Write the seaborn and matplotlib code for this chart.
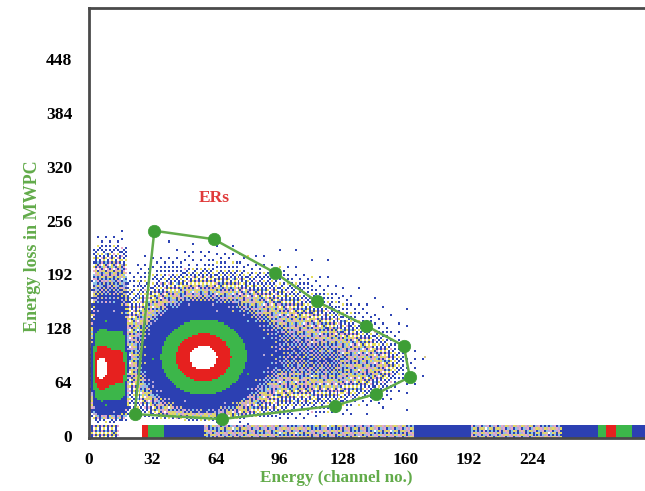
import numpy as np
import matplotlib

matplotlib.use("Agg")
import matplotlib.pyplot as plt
from matplotlib.colors import ListedColormap
import seaborn as sns

# gate drawn around the ER events (channel units)
gate_x = [33, 63, 94, 115, 140, 159, 162, 145, 124, 67, 23]
gate_y = [244, 234, 194, 160, 131, 107, 70, 50, 36, 20, 26]

# event clusters: centre, widths and mean counts per cell
blob_xc = [57.5, 62, 95, 124, 145, 10.5, 5.8, 10.5]
blob_yc = [92.5, 128, 100, 88, 85, 80, 79, 172]
blob_sx = [13, 22, 18, 13, 6, 7.6, 3.0, 7.6]
blob_sy_lo = [27, 30, 30, 20, 12, 26, 18, 22]
blob_sy_hi = [27, 30, 29, 20, 12, 32, 18, 22]
blob_peak = [125, 5.5, 6, 5, 2, 95, 35, 5.5]
blob_xpow = [2, 2, 2, 2, 2, 10, 2, 10]

# ΔE = 0 strip along the bottom: channel ranges and mean counts per cell
band_start = [1, 27, 30, 38, 57.6, 163.6, 193, 239.4, 257, 260.6, 265.7, 273.7]
band_end = [15, 30, 38, 57.6, 163.6, 193, 239.4, 257, 260.6, 265.7, 273.7, 288]
band_count = [1.5, 90, 50, 20, 4.5, 20, 4.5, 20, 50, 90, 50, 20]

# single stray event outside the gate
stray_x = [170]
stray_y = [94]
stray_count = [5]

# colour classes by counts per cell
count_edges = [1, 2, 3, 4, 5, 6, 7, 35, 75, 112]
class_colors = ["#2f45b5", "#e4dc5e", "#e8a9c8", "#8cc3e6", "#d6c68a",
                "#b9a8d8", "#2c40b2", "#3cb64a", "#e6211f", "#ffffff"]

x_edges = np.arange(0, 289, 1.0)
y_edges = np.arange(-2.5, 511, 2.5)
xc = (x_edges[:-1] + x_edges[1:]) / 2
yc = (y_edges[:-1] + y_edges[1:]) / 2
X, Y = np.meshgrid(xc, yc)

dens = np.zeros_like(X)
for i in range(len(blob_xc)):
    sy = np.where(Y < blob_yc[i], blob_sy_lo[i], blob_sy_hi[i])
    r = np.abs((X - blob_xc[i]) / blob_sx[i]) ** blob_xpow[i] + ((Y - blob_yc[i]) / sy) ** 2
    dens += blob_peak[i] * np.exp(-0.5 * r)
# trigger threshold removes low ΔE events above the strip
dens *= 1 / (1 + np.exp(-(Y - 23) / 2.0))

in_band = (Y > -2.5) & (Y < 12.5)
for s, e, c in zip(band_start, band_end, band_count):
    dens[in_band & (X >= s) & (X < e)] = c

# ordered dither used as a quantile of the counting statistics per cell
m = np.array([[0]])
while m.shape[0] < 16:
    m = np.block([[4 * m, 4 * m + 2], [4 * m + 3, 4 * m + 1]])
bay = (m + 0.5) / m.size
iy, ix = np.indices(X.shape)
b = bay[(iy + 5 * (ix // 16)) % 16, ix % 16]

lam = np.minimum(dens, 25)
pmf = np.exp(-lam)
cdf = pmf.copy()
quant = (b > cdf).astype(float)
for k in range(1, 70):
    pmf = pmf * lam / k
    cdf = cdf + pmf
    quant += b > cdf
counts = np.where(dens >= 25, dens, quant)

for sx_, sy_, c in zip(stray_x, stray_y, stray_count):
    counts[np.searchsorted(y_edges, sy_) - 1, np.searchsorted(x_edges, sx_) - 1] = c

cat = np.searchsorted(count_edges, counts, side="right").astype(float)
keep = cat > 0

sns.set_theme(style="white")
plt.rcParams["font.family"] = ["Liberation Serif", "DejaVu Serif"]
plt.rcParams["font.weight"] = "bold"

fig = plt.figure(figsize=(6.45, 4.91), dpi=100)
ax = fig.add_axes([89 / 645, 53 / 491, 288 * 1.98 / 645, 430 / 491])

sns.histplot(x=X[keep], y=Y[keep], weights=cat[keep], bins=[x_edges, y_edges],
             cmap=ListedColormap(class_colors), vmin=0.5, vmax=10.5, ax=ax)

sns.lineplot(x=gate_x + gate_x[:1], y=gate_y + gate_y[:1], sort=False,
             estimator=None, color="#62ab4a", linewidth=1.8, ax=ax, zorder=4)
sns.scatterplot(x=gate_x, y=gate_y, s=80, color="#3e9e36", edgecolor="#3e9e36",
                linewidth=0.5, ax=ax, zorder=5)

ax.text(63, 283, "ERs", color="#e03a3a", fontsize=12.5, fontweight="bold",
        ha="center", va="center")

ax.set_xlim(0, 288)
ax.set_ylim(-2.5, 509)
ax.set_xticks(np.arange(0, 225, 32))
ax.set_yticks(np.arange(0, 449, 64))
ax.set_xlabel("")
ax.set_ylabel("")
ax.tick_params(axis="both", direction="out", length=3, width=0.8, color="#aaaaaa",
               labelsize=12.5, labelcolor="black")
ax.tick_params(axis="x", pad=7)
ax.tick_params(axis="y", pad=9)
for lab in ax.get_xticklabels() + ax.get_yticklabels():
    lab.set_fontweight("bold")
for side in ["left", "bottom", "top", "right"]:
    ax.spines[side].set_color("#4a4a4a")
    ax.spines[side].set_linewidth(2)

fig.text(336 / 645, 1 - 478 / 491, "Energy (channel no.)", color="#62ab4a",
         fontsize=12.3, fontweight="bold", ha="center", va="center")
fig.text(33 / 645, 1 - 246 / 491, "Energy loss in MWPC", color="#62ab4a",
         fontsize=13, fontweight="bold", ha="center", va="center", rotation=90)

fig.savefig("out.png", dpi=100)
plt.close(fig)
